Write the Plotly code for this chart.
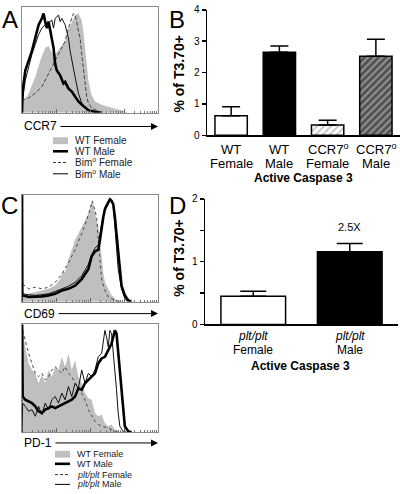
import math
import plotly.graph_objects as go

FONT = "Liberation Sans, Arial, Helvetica, sans-serif"
W, H = 400, 494

# ---------------- DATA ----------------
# Panel A: CCR7 histograms (channel, events)
a_wtf_ch = [0, 2, 20, 40, 55, 70, 80, 90, 100, 115, 130, 140, 150, 160, 170, 180, 185, 190, 195, 200, 208, 220, 240, 260, 280, 300, 310, 320]
a_wtf_ev = [0, 30, 60, 110, 160, 200, 205, 185, 180, 200, 220, 255, 280, 300, 305, 285, 250, 200, 150, 100, 60, 35, 25, 18, 12, 8, 3, 0]
a_wtm_ch = [0, 2, 10, 20, 30, 40, 50, 60, 65, 70, 75, 80, 85, 95, 100, 105, 115, 125, 130, 140, 150, 160, 170, 180, 190, 200, 220, 240]
a_wtm_ev = [0, 70, 130, 160, 190, 230, 270, 290, 305, 280, 260, 280, 250, 200, 150, 130, 115, 90, 95, 75, 65, 50, 35, 25, 15, 8, 3, 0]
a_bimf_ch = [0, 2, 20, 40, 60, 80, 90, 100, 110, 120, 130, 140, 150, 155, 160, 165, 170, 175, 180, 185, 190, 195, 200, 210, 230, 250]
a_bimf_ev = [0, 40, 45, 60, 80, 120, 140, 160, 180, 200, 220, 260, 290, 305, 300, 280, 250, 230, 180, 130, 80, 50, 30, 15, 5, 0]
a_bimm_ch = [0, 2, 10, 20, 30, 40, 50, 60, 70, 80, 90, 95, 100, 110, 115, 120, 130, 135, 140, 145, 150, 160, 170, 180, 190, 200, 220]
a_bimm_ev = [0, 40, 100, 140, 180, 210, 240, 260, 270, 275, 285, 260, 290, 300, 280, 290, 270, 250, 230, 190, 160, 110, 60, 30, 15, 8, 2]

# Panel C (top): CD69 histograms
c1_wtf_ch = [0, 2, 20, 40, 60, 80, 100, 115, 125, 130, 140, 150, 160, 170, 180, 190, 200, 205, 210, 215, 220, 225, 230, 235, 240, 245, 250, 260, 270, 280, 290, 300]
c1_wtf_ev = [0, 20, 25, 30, 35, 40, 50, 70, 95, 90, 130, 160, 190, 210, 230, 245, 270, 290, 310, 300, 270, 250, 230, 190, 140, 90, 60, 40, 20, 10, 3, 0]
c1_wtm_ch = [0, 1, 20, 40, 60, 80, 100, 120, 140, 160, 180, 200, 210, 220, 230, 235, 240, 245, 250, 260, 265, 270, 275, 280, 285, 290, 295, 300, 310, 320, 330]
c1_wtm_ev = [400, 20, 15, 15, 17, 20, 25, 35, 40, 50, 70, 100, 140, 155, 160, 190, 230, 260, 285, 305, 315, 310, 300, 260, 210, 140, 90, 50, 20, 5, 0]
c1_pltf_ch = [0, 2, 20, 40, 60, 80, 100, 120, 140, 160, 180, 195, 205, 212, 220, 225, 230, 235, 240, 250, 260, 280, 300]
c1_pltf_ev = [0, 55, 40, 45, 40, 45, 60, 85, 120, 160, 210, 250, 285, 310, 280, 260, 190, 120, 70, 35, 15, 5, 0]
c1_pltm_ch = [0, 2, 20, 40, 60, 80, 100, 120, 140, 160, 180, 200, 210, 220, 230, 240, 250, 260, 270, 275, 280, 285, 290, 300, 310, 320]
c1_pltm_ev = [0, 25, 22, 20, 22, 25, 32, 40, 48, 60, 80, 115, 145, 165, 175, 240, 290, 310, 315, 300, 240, 170, 100, 40, 10, 0]

# Panel C (bottom): PD-1 histograms
c2_wtf_ch = [0, 2, 10, 20, 30, 40, 50, 60, 70, 80, 90, 100, 110, 120, 130, 140, 150, 160, 170, 180, 190, 200, 210, 220, 230, 240, 250, 260, 270, 280, 290]
c2_wtf_ev = [0, 308, 258, 208, 188, 178, 148, 173, 148, 188, 168, 198, 188, 228, 198, 238, 188, 218, 168, 148, 118, 103, 98, 58, 48, 53, 28, 18, 23, 8, 0]
c2_wtm_ch = [0, 2, 10, 20, 30, 40, 50, 60, 70, 80, 90, 100, 110, 120, 130, 140, 150, 160, 170, 180, 190, 200, 210, 220, 230, 240, 250, 260, 270, 275, 280, 285, 290, 295, 300, 305, 310, 320, 330]
c2_wtm_ev = [400, 108, 98, 93, 88, 78, 63, 58, 68, 73, 78, 73, 78, 83, 88, 93, 98, 108, 133, 128, 148, 158, 168, 178, 208, 223, 228, 248, 268, 288, 308, 298, 238, 198, 128, 58, 18, 3, 0]
c2_pltf_ch = [0, 2, 10, 20, 30, 40, 50, 60, 70, 80, 90, 100, 110, 120, 130, 140, 150, 160, 170, 180, 190, 200, 210, 220, 230, 240, 260, 280, 300]
c2_pltf_ev = [0, 308, 278, 238, 208, 178, 168, 178, 158, 168, 188, 198, 188, 178, 198, 178, 168, 148, 138, 118, 98, 68, 48, 33, 23, 18, 13, 3, 0]
c2_pltm_ch = [0, 2, 10, 20, 30, 40, 50, 60, 70, 80, 90, 100, 110, 120, 130, 140, 150, 160, 170, 180, 190, 200, 210, 220, 230, 240, 250, 255, 260, 265, 270, 275, 280, 285, 290, 295, 305, 315]
c2_pltm_ev = [0, 88, 78, 63, 68, 48, 78, 53, 88, 68, 98, 108, 88, 118, 98, 138, 108, 148, 133, 188, 148, 178, 168, 188, 228, 238, 308, 288, 258, 308, 298, 248, 188, 128, 58, 18, 3, 0]

# Panel B: active caspase 3 (% of T3.70+)
b_categories = ["WT<br>Female", "WT<br>Male", "CCR7<sup>o</sup><br>Female", "CCR7<sup>o</sup><br>Male"]
b_means = [0.62, 2.65, 0.33, 2.52]
b_err = [0.29, 0.20, 0.15, 0.54]
b_ticks = [0, 1, 2, 3, 4]

# Panel D
d_categories = ["<i>plt/plt</i><br>Female", "<i>plt/plt</i><br>Male"]
d_means = [0.45, 1.16]
d_err = [0.08, 0.13]
d_ticks = [0, 0.5, 1, 1.5, 2]
d_ticktext = ["0", "", "1", "", "2"]

a_legend = ["WT Female", "WT Male", "Bim<sup>o</sup> Female", "Bim<sup>o</sup> Male"]
c_legend = ["WT Female", "WT Male", "<i>plt/plt</i> Female", "<i>plt/plt</i> Male"]

# ---------------- STYLE ----------------
GRAY_FILL = "#bfbfbf"


def dom_x(x0, x1):
    return [x0 / W, x1 / W]


def dom_y(ytop, ybot):
    return [1 - ybot / H, 1 - ytop / H]


def px(x):
    return x / W


def py(y):
    return 1 - y / H


fig = go.Figure()

# log-decade tick marks on the histogram axes
dec = 410 / 4
major = [d * dec for d in range(5)]
minor = [d * dec + math.log10(k) * dec for d in range(4) for k in range(2, 10)]


def hist_axes(n, ytop, ybot, ymax):
    xa = dict(domain=dom_x(22, 158), range=[0, 410], anchor="y" + n,
              showline=True, mirror=True, linecolor="#8a8a8a", linewidth=1,
              showgrid=False, zeroline=False, showticklabels=False,
              ticks="inside", tickvals=major, ticklen=4, tickcolor="#666", tickwidth=1,
              minor=dict(tickvals=minor, ticks="inside", ticklen=2, tickcolor="#777", tickwidth=1))
    ya = dict(domain=dom_y(ytop, ybot), range=[0, ymax], anchor="x" + n,
              showline=True, mirror=True, linecolor="#8a8a8a", linewidth=1,
              showgrid=False, zeroline=False, showticklabels=False, ticks="")
    return xa, ya


def add_hist(n, sets, dash_style):
    xa = "x" + n
    ya = "y" + n
    (fch, fev), (mch, mev), (kfch, kfev), (kmch, kmev) = sets
    fig.add_trace(go.Scatter(x=fch, y=fev, mode="lines", fill="tozeroy", fillcolor=GRAY_FILL,
                             line=dict(width=0, color=GRAY_FILL), xaxis=xa, yaxis=ya, showlegend=False,
                             hoverinfo="skip"))
    fig.add_trace(go.Scatter(x=kfch, y=kfev, mode="lines", line=dict(width=1, color="#444", dash=dash_style),
                             xaxis=xa, yaxis=ya, showlegend=False, hoverinfo="skip"))
    fig.add_trace(go.Scatter(x=kmch, y=kmev, mode="lines", line=dict(width=1, color="#111"),
                             xaxis=xa, yaxis=ya, showlegend=False, hoverinfo="skip"))
    fig.add_trace(go.Scatter(x=mch, y=mev, mode="lines", line=dict(width=2.6, color="black"),
                             xaxis=xa, yaxis=ya, showlegend=False, hoverinfo="skip"))


add_hist("", [(a_wtf_ch, a_wtf_ev), (a_wtm_ch, a_wtm_ev), (a_bimf_ch, a_bimf_ev), (a_bimm_ch, a_bimm_ev)], "4px,2px")
add_hist("3", [(c1_wtf_ch, c1_wtf_ev), (c1_wtm_ch, c1_wtm_ev), (c1_pltf_ch, c1_pltf_ev), (c1_pltm_ch, c1_pltm_ev)], "dot")
add_hist("4", [(c2_wtf_ch, c2_wtf_ev), (c2_wtm_ch, c2_wtm_ev), (c2_pltf_ch, c2_pltf_ev), (c2_pltm_ch, c2_pltm_ev)], "dot")

xa1, ya1 = hist_axes("", 2, 110, 325)
xa3, ya3 = hist_axes("3", 194, 303, 328)
xa4, ya4 = hist_axes("4", 326, 436, 326)
xa1["anchor"] = "y"
ya1["anchor"] = "x"

# ---- bar panels ----
b_fill = ["white", "black", "white", "#8f8f8f"]
b_shape = ["", "", "/", "/"]
b_fg = ["black", "black", "#8a8a8a", "#111111"]
b_sol = [0.3, 0.3, 0.35, 0.55]

for i, cat in enumerate(b_categories):
    fig.add_trace(go.Bar(
        x=[cat], y=[b_means[i]], width=0.67, xaxis="x2", yaxis="y2", showlegend=False,
        marker=dict(color=b_fill[i], line=dict(color="black", width=1.5),
                    pattern=dict(shape=b_shape[i], fgcolor=b_fg[i], bgcolor=b_fill[i],
                                 size=5, solidity=b_sol[i])),
        error_y=dict(type="data", array=[b_err[i]], arrayminus=[0], symmetric=False,
                     width=9, thickness=1.5, color="black"),
        hoverinfo="skip"))

d_fill = ["white", "black"]
for i, cat in enumerate(d_categories):
    fig.add_trace(go.Bar(
        x=[cat], y=[d_means[i]], width=0.67, xaxis="x5", yaxis="y5", showlegend=False,
        marker=dict(color=d_fill[i], line=dict(color="black", width=1.5)),
        error_y=dict(type="data", array=[d_err[i]], arrayminus=[0], symmetric=False,
                     width=13, thickness=1.5, color="black"),
        hoverinfo="skip"))

bar_x_common = dict(type="category", showline=True, linecolor="black", linewidth=1.5,
                    ticks="", showgrid=False, zeroline=False, showticklabels=False)
bar_y_common = dict(showline=True, linecolor="black", linewidth=1.5, ticks="outside",
                    ticklen=4, tickwidth=1.5, tickcolor="black", showgrid=False, zeroline=False,
                    tickfont=dict(size=10, color="black"))

fig.update_layout(
    width=W, height=H, margin=dict(l=0, r=0, t=0, b=0),
    paper_bgcolor="white", plot_bgcolor="white",
    font=dict(family=FONT, color="black"),
    bargap=0,
    xaxis=xa1, yaxis=ya1,
    xaxis3=xa3, yaxis3=ya3,
    xaxis4=xa4, yaxis4=ya4,
    xaxis2=dict(domain=dom_x(207, 400), anchor="y2", range=[-0.5, 3.5],
                categoryorder="array", categoryarray=b_categories, **bar_x_common),
    yaxis2=dict(domain=dom_y(5, 133), anchor="x2", range=[0, 4], tickvals=b_ticks, **bar_y_common),
    xaxis5=dict(domain=dom_x(205, 398), anchor="y5", range=[-0.5, 1.5],
                categoryorder="array", categoryarray=d_categories, **bar_x_common),
    yaxis5=dict(domain=dom_y(198, 326), anchor="x5", range=[0, 2], tickvals=d_ticks,
                ticktext=d_ticktext, **bar_y_common),
)

ann = []
# category labels, one annotation per text line, placed on the category axis
for cats, axis, ys, fs in [(b_categories, "x2", (147, 162), 13), (d_categories, "x5", (338, 352), 12)]:
    for cat in cats:
        for line, yy in zip(cat.split("<br>"), ys):
            ann.append(dict(x=cat, y=py(yy), xref=axis, yref="paper", text=line, showarrow=False,
                            xanchor="center", yanchor="middle", font=dict(size=fs, color="black")))
# panel letters
for letter, cx, cy in [("A", 10, 15), ("B", 177, 15), ("C", 9, 205), ("D", 177, 205)]:
    ann.append(dict(x=px(cx), y=py(cy), xref="paper", yref="paper", text=letter, showarrow=False,
                    xanchor="center", yanchor="middle", font=dict(size=24, color="black")))
# y titles
for cy in [71, 259]:
    ann.append(dict(x=px(179), y=py(cy), xref="paper", yref="paper", text="<b>% of T3.70+</b>",
                    showarrow=False, textangle=-90, xanchor="center", yanchor="middle",
                    font=dict(size=14, color="black")))
# x titles
ann.append(dict(x=px(303), y=py(177), xref="paper", yref="paper", text="<b>Active Caspase 3</b>",
                showarrow=False, xanchor="center", yanchor="middle", font=dict(size=12)))
ann.append(dict(x=px(300), y=py(368), xref="paper", yref="paper", text="<b>Active Caspase 3</b>",
                showarrow=False, xanchor="center", yanchor="middle", font=dict(size=12)))
# fold change
ann.append(dict(x=d_categories[1], y=1.56, xref="x5", yref="y5", text="2.5X", showarrow=False,
                xanchor="center", yanchor="middle", font=dict(size=11)))
# histogram axis labels with arrows
for lab, ypx, xs in [("CCR7", 124, 59), ("CD69", 315, 57), ("PD-1", 447, 54)]:
    ann.append(dict(x=px(22), y=py(ypx), xref="paper", yref="paper", text=lab, showarrow=False,
                    xanchor="left", yanchor="middle", font=dict(size=12)))
    ann.append(dict(x=px(158), y=py(ypx), xref="paper", yref="paper", text="", showarrow=True,
                    ax=xs - 158, ay=0, axref="pixel", ayref="pixel", arrowhead=2, arrowsize=1.4,
                    arrowwidth=1, arrowcolor="black", standoff=0))

shapes = []


def legend_block(labels, x0, x1, rect_y, ys, fsize):
    shapes.append(dict(type="rect", xref="paper", yref="paper", x0=px(x0), x1=px(x1),
                       y0=py(rect_y[1]), y1=py(rect_y[0]), fillcolor=GRAY_FILL, line=dict(width=0)))
    styles = [dict(width=2.6, color="black"), dict(width=1, color="#333", dash="3px,2px"),
              dict(width=1, color="black")]
    for st, yy in zip(styles, ys[1:]):
        shapes.append(dict(type="line", xref="paper", yref="paper", x0=px(x0), x1=px(x1),
                           y0=py(yy), y1=py(yy), line=st))
    for lab, yy in zip(labels, ys):
        ann.append(dict(x=px(x1 + 4.5), y=py(yy), xref="paper", yref="paper", text=lab,
                        showarrow=False, xanchor="left", yanchor="middle",
                        font=dict(size=fsize, color="#222")))


legend_block(a_legend, 53, 68, (135, 142), [138.5, 149.3, 160.7, 172.3], 10)
legend_block(c_legend, 55, 70, (455, 462), [458.5, 468.3, 479.3, 489.3], 9)

fig.update_layout(annotations=ann, shapes=shapes)

fig.write_html("out.html", config={"displayModeBar": False, "staticPlot": True},
               post_script="document.body.style.margin='0';document.body.style.overflow='hidden';")
